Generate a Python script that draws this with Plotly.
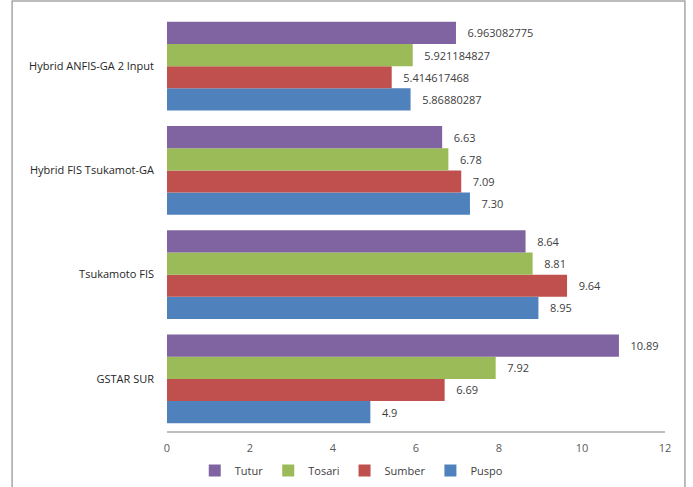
import plotly.graph_objects as go

categories = ["GSTAR SUR", "Tsukamoto FIS", "Hybrid FIS Tsukamot-GA", "Hybrid ANFIS-GA 2 Input"]
puspo = [4.9, 8.95, 7.30, 5.86880287]
sumber = [6.69, 9.64, 7.09, 5.414617468]
tosari = [7.92, 8.81, 6.78, 5.921184827]
tutur = [10.89, 8.64, 6.63, 6.963082775]
puspo_txt = ["4.9", "8.95", "7.30", "5.86880287"]
sumber_txt = ["6.69", "9.64", "7.09", "5.414617468"]
tosari_txt = ["7.92", "8.81", "6.78", "5.921184827"]
tutur_txt = ["10.89", "8.64", "6.63", "6.963082775"]
x_ticks = [0, 2, 4, 6, 8, 10, 12]

series = [
    ("Puspo", puspo, puspo_txt, "#4F81BD"),
    ("Sumber", sumber, sumber_txt, "#C0504D"),
    ("Tosari", tosari, tosari_txt, "#9BBB59"),
    ("Tutur", tutur, tutur_txt, "#8064A2"),
]

fig = go.Figure()
for name, vals, txt, col in series:
    fig.add_trace(go.Bar(
        y=categories, x=vals, name=name, orientation="h",
        marker=dict(color=col, line=dict(width=0)),
        text=["   " + t for t in txt], textposition="outside",
        textfont=dict(size=11, color="#404040"),
        cliponaxis=False,
    ))

fig.update_layout(
    width=693, height=487,
    margin=dict(l=167, r=28, t=14, b=56, autoexpand=False),
    paper_bgcolor="white", plot_bgcolor="white",
    barmode="group", bargap=0.15, bargroupgap=0,
    font=dict(family="Open Sans, Liberation Sans, sans-serif", size=11, color="#404040"),
    xaxis=dict(range=[0, 12], tickvals=x_ticks, showgrid=False, zeroline=False,
               showline=True, linecolor="#BFBFBF", linewidth=2, ticks="",
               ticklabelstandoff=6,
               tickfont=dict(size=11, color="#595959")),
    yaxis=dict(showgrid=False, zeroline=False, showline=False, ticks="",
               ticklabelstandoff=12, tickfont=dict(size=11, color="#262626")),
    legend=dict(orientation="h", traceorder="reversed", x=0.37, xanchor="center",
                y=-0.06, yanchor="top", font=dict(size=11, color="#404040"),
                itemwidth=30),
    shapes=[dict(type="rect", xref="paper", yref="paper",
                 x0=-0.311, x1=1.040, y0=-0.14, y1=1.031,
                 line=dict(color="#A6A6A6", width=1.5), fillcolor="rgba(0,0,0,0)")],
)

fig.write_html("out.html")
